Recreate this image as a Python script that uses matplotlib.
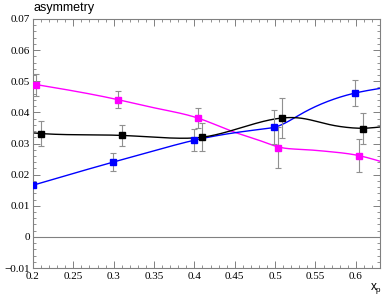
import numpy as np
import matplotlib
matplotlib.use("Agg")
import matplotlib.pyplot as plt
from matplotlib.ticker import MultipleLocator, FuncFormatter

# data points (markers + error bars)
x_mag = [0.204, 0.305, 0.404, 0.504, 0.604]
y_mag = [0.0488, 0.0441, 0.0382, 0.0287, 0.0261]
e_mag = [0.0035, 0.0028, 0.0033, 0.0065, 0.0053]

x_blue = [0.200, 0.299, 0.399, 0.499, 0.599]
y_blue = [0.0166, 0.0240, 0.0310, 0.0352, 0.0462]
e_blue = [0.0, 0.0028, 0.0035, 0.0055, 0.0043]

x_blk = [0.210, 0.310, 0.409, 0.509, 0.609]
y_blk = [0.0332, 0.0326, 0.0320, 0.0382, 0.0348]
e_blk = [0.0039, 0.0034, 0.0045, 0.0063, 0.0050]

# smooth curves, samples
cx_mag = [0.200, 0.305, 0.355, 0.404, 0.448, 0.487, 0.504, 0.533, 0.567, 0.604, 0.630]
cy_mag = [0.0491, 0.0441, 0.0412, 0.0382, 0.0338, 0.0304, 0.0289, 0.0281, 0.0274, 0.0261, 0.0243]

cx_blue = [0.200, 0.299, 0.345, 0.399, 0.487, 0.499, 0.533, 0.567, 0.599, 0.630]
cy_blue = [0.0166, 0.0240, 0.0273, 0.0310, 0.0347, 0.0352, 0.0396, 0.0437, 0.0462, 0.0477]

cx_blk = [0.200, 0.210, 0.310, 0.345, 0.380, 0.409, 0.487, 0.509, 0.533, 0.567, 0.592, 0.609, 0.630]
cy_blk = [0.0334, 0.0332, 0.0326, 0.0321, 0.0317, 0.0320, 0.0372, 0.0382, 0.0381, 0.0361, 0.0351, 0.0349, 0.0353]

XMIN, XMAX = 0.2, 0.63
YMIN, YMAX = -0.01, 0.07


def natural_spline(xs, ys, xq):
    xs = np.asarray(xs, float); ys = np.asarray(ys, float)
    n = len(xs)
    h = np.diff(xs)
    A = np.zeros((n, n)); b = np.zeros(n)
    A[0, 0] = 1; A[-1, -1] = 1
    for i in range(1, n - 1):
        A[i, i - 1] = h[i - 1]
        A[i, i] = 2 * (h[i - 1] + h[i])
        A[i, i + 1] = h[i]
        b[i] = 3 * ((ys[i + 1] - ys[i]) / h[i] - (ys[i] - ys[i - 1]) / h[i - 1])
    c = np.linalg.solve(A, b)
    bb = np.zeros(n - 1); d = np.zeros(n - 1)
    for i in range(n - 1):
        bb[i] = (ys[i + 1] - ys[i]) / h[i] - h[i] * (2 * c[i] + c[i + 1]) / 3
        d[i] = (c[i + 1] - c[i]) / (3 * h[i])
    out = np.empty_like(xq)
    for k, xv in enumerate(xq):
        i = np.clip(np.searchsorted(xs, xv) - 1, 0, n - 2)
        dx = xv - xs[i]
        out[k] = ys[i] + bb[i] * dx + c[i] * dx ** 2 + d[i] * dx ** 3
    return out


fig = plt.figure(figsize=(3.82, 2.97), dpi=100)
ax = fig.add_axes([33 / 382, 1 - 268 / 297, 347 / 382, 249 / 297])

frame_col = "#808080"
ax.axhline(0, color=frame_col, lw=0.8, zorder=1)

xq = np.linspace(XMIN, XMAX, 500)
series = [
    (x_mag, y_mag, e_mag, cx_mag, cy_mag, "#ff00ff"),
    (x_blue, y_blue, e_blue, cx_blue, cy_blue, "#0000ff"),
    (x_blk, y_blk, e_blk, cx_blk, cy_blk, "#000000"),
]
for xs, ys, es, cxs, cys, col in series:
    ax.plot(xq, natural_spline(cxs, cys, xq), color=col, lw=1.0, zorder=2)
    ax.errorbar(xs, ys, yerr=es, fmt="none", ecolor="#909090", elinewidth=0.8,
                capsize=2.2, capthick=0.8, zorder=3)
    ax.plot(xs, ys, "s", color=col, ms=4, zorder=4)

ax.set_xlim(XMIN, XMAX)
ax.set_ylim(YMIN, YMAX)

ax.xaxis.set_major_locator(MultipleLocator(0.05))
ax.xaxis.set_minor_locator(MultipleLocator(0.01))
ax.yaxis.set_major_locator(MultipleLocator(0.01))
ax.yaxis.set_minor_locator(MultipleLocator(0.002))


def fmt(v, pos):
    s = ("%.3f" % v).rstrip("0").rstrip(".")
    if s in ("-0", "0.", ""):
        s = "0"
    return s.replace("-", "\u2212")


ax.xaxis.set_major_formatter(FuncFormatter(fmt))
ax.yaxis.set_major_formatter(FuncFormatter(fmt))

for sp in ax.spines.values():
    sp.set_color(frame_col)
    sp.set_linewidth(0.8)

ax.tick_params(which="both", direction="in", top=True, right=True,
               colors=frame_col, labelcolor="black")
ax.tick_params(which="major", length=5, width=0.7)
ax.tick_params(which="minor", length=2.5, width=0.6)
for lab in ax.get_xticklabels() + ax.get_yticklabels():
    lab.set_fontfamily("Liberation Serif")
    lab.set_fontsize(8)
ax.tick_params(axis="x", pad=3)
ax.tick_params(axis="y", pad=2)

fig.text(34 / 382, 1 - 8 / 297, "asymmetry", family="Liberation Sans",
         fontsize=9, ha="left", va="center")
fig.text(376 / 382, 1 - 289 / 297, "x$_\\mathregular{p}$", family="Liberation Sans",
         fontsize=8.5, ha="center", va="center")

fig.savefig("out.png", dpi=100)
